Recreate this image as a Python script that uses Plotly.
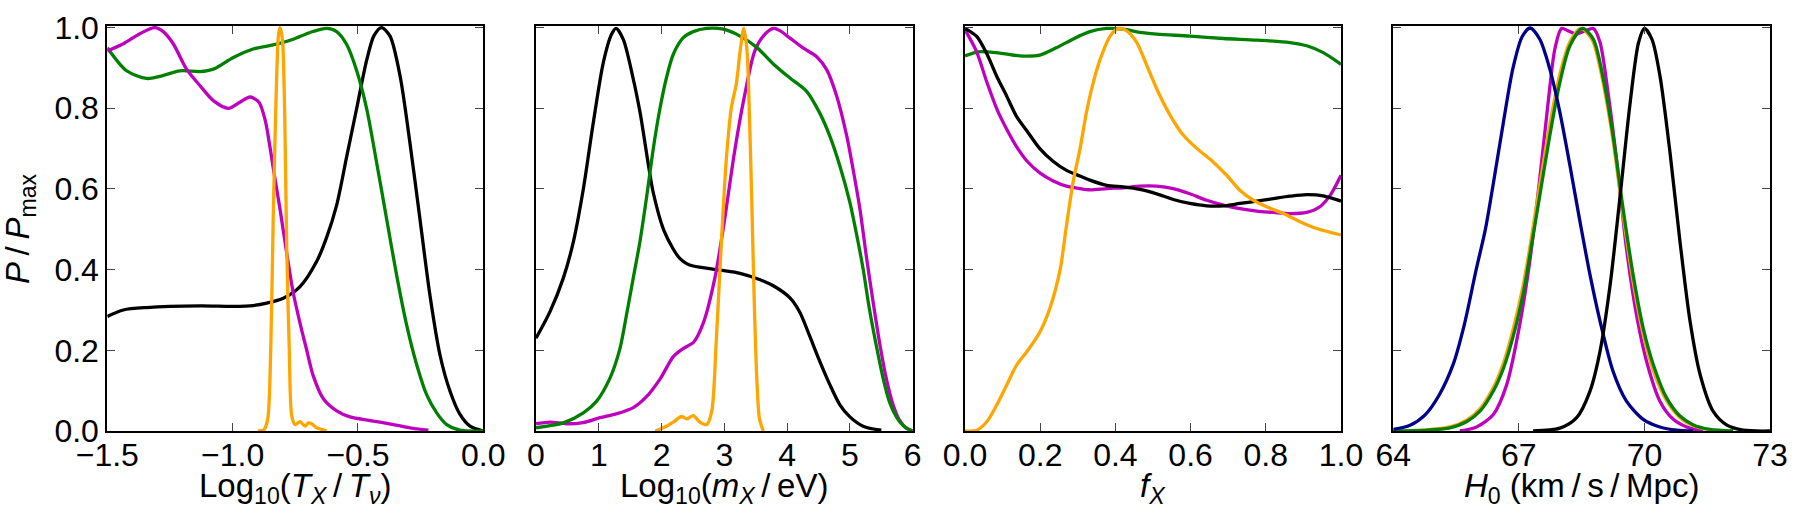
import plotly.graph_objects as go

# ---------------- Panel 1: Log10(T_X/T_nu) ----------------
p1_magenta_x = [-1.5, -1.436, -1.37, -1.31, -1.277, -1.237, -1.184, -1.13, -1.077, -1.017, -0.971, -0.93,
                -0.895, -0.87, -0.85, -0.835, -0.811, -0.784, -0.758, -0.731, -0.705, -0.678, -0.638,
                -0.585, -0.532, -0.452, -0.359, -0.293, -0.219]
p1_magenta_y = [0.942, 0.96, 0.985, 1.0, 0.99, 0.96, 0.897, 0.856, 0.819, 0.80, 0.815, 0.828,
                0.815, 0.77, 0.70, 0.64, 0.55, 0.44, 0.342, 0.267, 0.202, 0.136, 0.08,
                0.05, 0.035, 0.026, 0.016, 0.008, 0.002]

p1_green_x = [-1.5, -1.423, -1.343, -1.29, -1.21, -1.13, -1.077, -0.997, -0.918, -0.824, -0.758, -0.691,
              -0.625, -0.585, -0.545, -0.505, -0.465, -0.426, -0.386, -0.346, -0.306, -0.266, -0.226,
              -0.186, -0.146, -0.093, 0.0]
p1_green_y = [0.95, 0.893, 0.874, 0.879, 0.893, 0.891, 0.897, 0.926, 0.947, 0.959, 0.971, 0.988,
              0.998, 0.99, 0.958, 0.893, 0.798, 0.667, 0.527, 0.387, 0.263, 0.165, 0.09,
              0.045, 0.016, 0.002, 0.0]

p1_black_x = [-1.5, -1.436, -1.343, -1.13, -0.997, -0.918, -0.864, -0.798, -0.731, -0.665, -0.625, -0.585,
              -0.545, -0.505, -0.465, -0.436, -0.406, -0.372, -0.332, -0.293, -0.253, -0.213, -0.173,
              -0.133, -0.093, -0.053, 0.0]
p1_black_y = [0.284, 0.30, 0.306, 0.31, 0.309, 0.311, 0.317, 0.329, 0.358, 0.42, 0.48, 0.56,
              0.68, 0.80, 0.92, 0.98, 1.0, 0.979, 0.88, 0.716, 0.527, 0.337, 0.189,
              0.099, 0.041, 0.012, 0.0]

p1_orange_x = [-0.90, -0.875, -0.86, -0.848, -0.838, -0.827, -0.818, -0.812, -0.806, -0.80, -0.792, -0.784,
               -0.774, -0.764, -0.751, -0.731, -0.711, -0.698, -0.685, -0.665, -0.645, -0.625]
p1_orange_y = [0.0, 0.003, 0.03, 0.202, 0.531, 0.819, 0.975, 1.0, 0.99, 0.96, 0.778, 0.448,
               0.2, 0.037, 0.016, 0.023, 0.012, 0.02, 0.018, 0.008, 0.004, 0.0]

# ---------------- Panel 2: Log10(m_X/eV) ----------------
p2_black_x = [0.0, 0.223, 0.435, 0.595, 0.754, 0.913, 1.073, 1.205, 1.275, 1.39, 1.55, 1.657, 1.71, 1.80,
              1.869, 2.03, 2.19, 2.29, 2.40, 2.506, 2.93, 3.25, 3.57, 3.78, 4.045, 4.2, 4.36, 4.5, 4.68,
              4.84, 5.0, 5.21, 5.5]
p2_black_y = [0.23, 0.296, 0.379, 0.469, 0.60, 0.765, 0.914, 0.984, 0.998, 0.971, 0.872, 0.79, 0.74, 0.65,
              0.59, 0.50, 0.45, 0.428, 0.415, 0.409, 0.399, 0.391, 0.375, 0.36, 0.33, 0.295, 0.235, 0.18, 0.115,
              0.065, 0.035, 0.012, 0.002]

p2_green_x = [0.0, 0.435, 0.754, 0.966, 1.178, 1.338, 1.444, 1.55, 1.656, 1.762, 1.868, 1.975, 2.08, 2.187,
              2.346, 2.506, 2.72, 2.985, 3.25, 3.516, 3.78, 4.045, 4.31, 4.52, 4.68, 4.84, 5.0, 5.1, 5.21,
              5.31, 5.42, 5.53, 5.63, 5.74, 5.85, 5.966, 6.0]
p2_green_y = [0.008, 0.02, 0.045, 0.074, 0.131, 0.205, 0.29, 0.38, 0.47, 0.58, 0.70, 0.80, 0.877, 0.934,
              0.975, 0.99, 0.998, 0.996, 0.979, 0.951, 0.91, 0.875, 0.842, 0.788, 0.731, 0.657, 0.566, 0.492, 0.402,
              0.303, 0.212, 0.13, 0.072, 0.035, 0.013, 0.002, 0.0]

p2_magenta_x = [0.0, 0.22, 0.49, 0.75, 1.02, 1.29, 1.55, 1.76, 1.98, 2.19, 2.35, 2.51, 2.67, 2.85, 3.0,
                3.16, 3.32, 3.48, 3.62, 3.78, 3.89, 4.045, 4.26, 4.47, 4.63, 4.79, 4.95, 5.05, 5.16, 5.26,
                5.37, 5.48, 5.58, 5.69, 5.79, 5.9, 6.0]
p2_magenta_y = [0.018, 0.022, 0.018, 0.021, 0.033, 0.043, 0.058, 0.085, 0.13, 0.185, 0.205, 0.22, 0.27, 0.38, 0.52,
                0.69, 0.83, 0.94, 0.979, 0.998, 0.992, 0.974, 0.949, 0.928, 0.896, 0.83, 0.731, 0.649, 0.55, 0.435,
                0.319, 0.212, 0.13, 0.064, 0.027, 0.007, 0.0]

p2_orange_x = [1.9, 2.08, 2.187, 2.32, 2.40, 2.506, 2.61, 2.72, 2.8, 2.87, 2.95, 3.03, 3.11, 3.19, 3.25,
               3.31, 3.36, 3.40, 3.44, 3.48, 3.52, 3.56, 3.62]
p2_orange_y = [0.0, 0.012, 0.022, 0.036, 0.03, 0.038, 0.022, 0.016, 0.05, 0.22, 0.46, 0.67, 0.80, 0.86, 0.94,
               0.998, 0.945, 0.78, 0.55, 0.30, 0.12, 0.03, 0.0]

# ---------------- Panel 3: f_X ----------------
p3_green_x = [0.0, 0.035, 0.093, 0.146, 0.199, 0.243, 0.288, 0.332, 0.377, 0.421, 0.465, 0.51, 0.598,
              0.687, 0.776, 0.864, 0.909, 0.953, 1.0]
p3_green_y = [0.93, 0.94, 0.937, 0.93, 0.932, 0.95, 0.972, 0.99, 0.998, 0.996, 0.988, 0.984, 0.979,
              0.973, 0.969, 0.963, 0.955, 0.938, 0.909]

p3_black_x = [0.0, 0.031, 0.058, 0.084, 0.111, 0.137, 0.164, 0.199, 0.235, 0.27, 0.306, 0.332, 0.377,
              0.421, 0.465, 0.51, 0.554, 0.598, 0.643, 0.687, 0.731, 0.776, 0.82, 0.864, 0.909, 0.953, 1.0]
p3_black_y = [0.998, 0.978, 0.935, 0.88, 0.83, 0.78, 0.745, 0.70, 0.668, 0.646, 0.632, 0.622, 0.609,
              0.605, 0.599, 0.588, 0.574, 0.564, 0.558, 0.558, 0.564, 0.57, 0.576, 0.582, 0.586, 0.583, 0.57]

p3_magenta_x = [0.0, 0.031, 0.058, 0.084, 0.111, 0.137, 0.164, 0.199, 0.235, 0.27, 0.306, 0.332, 0.377,
                0.421, 0.465, 0.51, 0.554, 0.598, 0.643, 0.687, 0.731, 0.776, 0.82, 0.864, 0.909, 0.944,
                0.971, 1.0]
p3_magenta_y = [0.995, 0.94, 0.865, 0.80, 0.748, 0.705, 0.67, 0.64, 0.62, 0.607, 0.601, 0.598, 0.601,
                0.603, 0.607, 0.607, 0.601, 0.588, 0.572, 0.56, 0.551, 0.545, 0.542, 0.539, 0.542, 0.556,
                0.584, 0.634]

p3_orange_x = [0.0, 0.031, 0.058, 0.084, 0.111, 0.137, 0.164, 0.199, 0.226, 0.253, 0.27, 0.288, 0.306,
               0.323, 0.34, 0.359, 0.386, 0.408, 0.43, 0.457, 0.484, 0.51, 0.546, 0.581, 0.617, 0.66,
               0.696, 0.731, 0.767, 0.802, 0.847, 0.891, 0.935, 1.0]
p3_orange_y = [0.0, 0.002, 0.023, 0.064, 0.114, 0.163, 0.196, 0.245, 0.305, 0.40, 0.51, 0.62, 0.70,
               0.79, 0.86, 0.92, 0.979, 0.998, 0.992, 0.963, 0.905, 0.848, 0.782, 0.733, 0.70, 0.667,
               0.634, 0.597, 0.572, 0.556, 0.539, 0.519, 0.502, 0.486]

# ---------------- Panel 4: H0 ----------------
p4_blue_x = [64.0, 64.4, 64.76, 65.1, 65.43, 65.7, 65.98, 66.2, 66.4, 66.63, 66.86, 67.08, 67.27, 67.5,
             67.74, 67.98, 68.22, 68.46, 68.70, 68.94, 69.25, 69.57, 69.97, 70.37, 70.77, 71.17]
p4_blue_y = [0.004, 0.014, 0.04, 0.09, 0.165, 0.265, 0.40, 0.50, 0.62, 0.765, 0.90, 0.978, 0.999, 0.971,
             0.897, 0.79, 0.658, 0.519, 0.387, 0.272, 0.148, 0.074, 0.029, 0.01, 0.002, 0.0]

p4_black_x = [67.34, 67.98, 68.38, 68.70, 68.94, 69.18, 69.42, 69.66, 69.86, 70.0, 70.18, 70.37, 70.61,
              70.85, 71.09, 71.33, 71.64, 71.96, 72.36, 73.0]
p4_black_y = [0.0, 0.007, 0.033, 0.099, 0.198, 0.362, 0.584, 0.815, 0.963, 0.998, 0.971, 0.881, 0.691,
              0.469, 0.272, 0.14, 0.049, 0.015, 0.002, 0.0]

p4_green_x = [64.0, 64.8, 65.35, 65.75, 66.07, 66.39, 66.63, 66.87, 67.11, 67.27, 67.50, 67.74, 67.98,
              68.22, 68.52, 68.78, 69.02, 69.25, 69.49, 69.73, 69.97, 70.21, 70.53, 70.85, 71.17, 71.56, 72.12]
p4_green_y = [0.0, 0.002, 0.008, 0.023, 0.049, 0.099, 0.155, 0.237, 0.344, 0.44, 0.584, 0.733, 0.864,
              0.955, 0.998, 0.971, 0.872, 0.733, 0.551, 0.387, 0.255, 0.165, 0.082, 0.037, 0.015, 0.004, 0.0]

p4_orange_x = [64.0, 64.8, 65.35, 65.75, 66.07, 66.39, 66.63, 66.87, 67.11, 67.27, 67.50, 67.74, 67.98,
               68.22, 68.48, 68.75, 69.0, 69.25, 69.49, 69.73, 69.97, 70.21, 70.53, 70.85, 71.17, 71.56, 72.12]
p4_orange_y = [0.0, 0.003, 0.01, 0.027, 0.055, 0.108, 0.168, 0.255, 0.365, 0.46, 0.61, 0.76, 0.885,
               0.965, 0.998, 0.97, 0.87, 0.72, 0.535, 0.37, 0.24, 0.15, 0.075, 0.033, 0.013, 0.003, 0.0]

p4_magenta_x = [65.59, 65.99, 66.39, 66.71, 67.02, 67.26, 67.50, 67.70, 67.86, 68.02, 68.18, 68.38, 68.58,
                68.78, 68.94, 69.14, 69.34, 69.57, 69.81, 70.05, 70.37, 70.69, 71.01, 71.4]
p4_magenta_y = [0.0, 0.01, 0.041, 0.115, 0.263, 0.42, 0.626, 0.815, 0.947, 0.998, 0.992, 0.984, 0.992,
                0.998, 0.963, 0.831, 0.667, 0.453, 0.288, 0.173, 0.074, 0.029, 0.01, 0.0]

# ---------------- axes / labels ----------------
x_ranges = [[-1.5, 0.0], [0, 6], [0.0, 1.0], [64, 73]]
x_tickvals = [[-1.5, -1.0, -0.5, 0.0], [0, 1, 2, 3, 4, 5, 6], [0.0, 0.2, 0.4, 0.6, 0.8, 1.0], [64, 67, 70, 73]]
x_ticktext = [["\u22121.5", "\u22121.0", "\u22120.5", "0.0"], ["0", "1", "2", "3", "4", "5", "6"],
              ["0.0", "0.2", "0.4", "0.6", "0.8", "1.0"], ["64", "67", "70", "73"]]
y_tickvals = [0.0, 0.2, 0.4, 0.6, 0.8, 1.0]
y_ticktext = ["0.0", "0.2", "0.4", "0.6", "0.8", "1.0"]
x_titles = ["Log<sub>10</sub>(<i>T<sub>X</sub></i>\u2009/\u2009<i>T<sub>\u03bd</sub></i>)",
            "Log<sub>10</sub>(<i>m<sub>X</sub></i>\u2009/\u2009eV)",
            "<i>f<sub>X</sub></i>",
            "<i>H</i><sub>0</sub> (km\u2009/\u2009s\u2009/\u2009Mpc)"]
y_title = "<i>P</i>\u2009/\u2009<i>P</i><sub>max</sub>"

MAGENTA = "#BF00BF"
GREEN = "#008000"
BLACK = "#000000"
ORANGE = "#FFA500"
NAVY = "#00008B"

W, H = 1800, 525
panel_px = [(107.3, 483.3), (536.0, 912.7), (965.0, 1341.0), (1393.3, 1770.0)]
top_px, bot_px = 26.0, 431.0
FONT = "Liberation Sans, Arial, Helvetica, sans-serif"
FS = 32
FS_TITLE = 33
LW = 3.3

fig = go.Figure()

panels = [
    [(p1_black_x, p1_black_y, BLACK), (p1_green_x, p1_green_y, GREEN),
     (p1_magenta_x, p1_magenta_y, MAGENTA), (p1_orange_x, p1_orange_y, ORANGE)],
    [(p2_black_x, p2_black_y, BLACK), (p2_magenta_x, p2_magenta_y, MAGENTA),
     (p2_green_x, p2_green_y, GREEN), (p2_orange_x, p2_orange_y, ORANGE)],
    [(p3_green_x, p3_green_y, GREEN), (p3_magenta_x, p3_magenta_y, MAGENTA),
     (p3_black_x, p3_black_y, BLACK), (p3_orange_x, p3_orange_y, ORANGE)],
    [(p4_magenta_x, p4_magenta_y, MAGENTA), (p4_orange_x, p4_orange_y, ORANGE),
     (p4_green_x, p4_green_y, GREEN), (p4_blue_x, p4_blue_y, NAVY),
     (p4_black_x, p4_black_y, BLACK)],
]

for i, traces in enumerate(panels):
    sfx = "" if i == 0 else str(i + 1)
    for xs, ys, col in traces:
        fig.add_trace(go.Scatter(x=xs, y=ys, mode="lines",
                                 line=dict(color=col, width=LW, shape="spline", smoothing=0.8),
                                 xaxis="x" + sfx, yaxis="y" + sfx, showlegend=False, hoverinfo="skip"))

layout = dict(template="none", width=W, height=H, margin=dict(l=0, r=0, t=0, b=0, autoexpand=False),
              paper_bgcolor="white", plot_bgcolor="white", showlegend=False)

common = dict(ticks="inside", ticklen=8, tickwidth=1, tickcolor="#444", showline=True, linecolor="black",
              linewidth=2, mirror="allticks", showgrid=False, zeroline=False, automargin=False,
              tickfont=dict(family=FONT, size=FS, color="black"))

y0 = (H - bot_px) / H
y1 = (H - top_px) / H
annotations = []
for i in range(4):
    sfx = "" if i == 0 else str(i + 1)
    x0 = panel_px[i][0] / W
    x1 = panel_px[i][1] / W
    layout["xaxis" + sfx] = dict(domain=[x0, x1], range=x_ranges[i], tickvals=x_tickvals[i],
                                 ticktext=x_ticktext[i], anchor="y" + sfx, ticklabelstandoff=-5, **common)
    layout["yaxis" + sfx] = dict(domain=[y0, y1], range=[0, 1.004], tickvals=y_tickvals, ticktext=y_ticktext,
                                 anchor="x" + sfx, showticklabels=(i == 0), **common)
    annotations.append(dict(text=x_titles[i], x=(x0 + x1) / 2, y=(H - 488) / H, xref="paper", yref="paper",
                            xanchor="center", yanchor="middle", showarrow=False,
                            font=dict(family=FONT, size=FS_TITLE, color="black")))

annotations.append(dict(text=y_title, x=20 / W, y=(H - 229) / H, xref="paper", yref="paper",
                        xanchor="center", yanchor="middle", showarrow=False, textangle=-90,
                        font=dict(family=FONT, size=FS_TITLE, color="black")))
layout["annotations"] = annotations

fig.update_layout(**layout)
fig.write_html("out.html")
